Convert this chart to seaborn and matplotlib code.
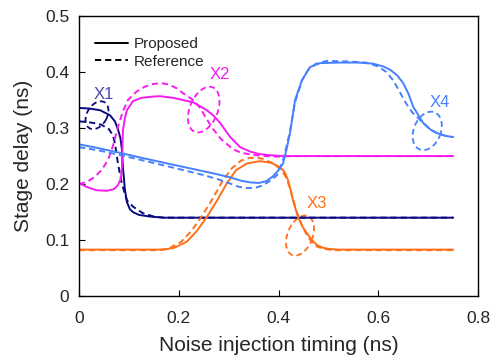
import numpy as np
import pandas as pd
import matplotlib
matplotlib.use('Agg')
import matplotlib.pyplot as plt
from matplotlib.patches import Ellipse
from matplotlib.transforms import ScaledTranslation
from matplotlib.lines import Line2D
import seaborn as sns

sns.set_style('ticks')
plt.rcParams['font.family'] = ['Liberation Sans', 'DejaVu Sans']

# ---- data (ns) ----
x1_prop_t = [0, 0.02, 0.042, 0.062, 0.072, 0.078, 0.083, 0.086, 0.088, 0.092, 0.096, 0.102, 0.108, 0.12, 0.142, 0.17, 0.75]
x1_prop_d = [0.336, 0.335, 0.332, 0.323, 0.312, 0.298, 0.282, 0.262, 0.23, 0.19, 0.168, 0.155, 0.15, 0.145, 0.142, 0.14, 0.14]
x1_ref_t = [0, 0.015, 0.03, 0.045, 0.06, 0.068, 0.072, 0.078, 0.086, 0.096, 0.108, 0.116, 0.128, 0.15, 0.17, 0.75]
x1_ref_d = [0.312, 0.311, 0.309, 0.306, 0.298, 0.287, 0.273, 0.237, 0.2, 0.171, 0.16, 0.155, 0.148, 0.142, 0.14, 0.14]

x2_prop_t = [0, 0.015, 0.035, 0.056, 0.07, 0.078, 0.084, 0.086, 0.087, 0.088, 0.092, 0.096, 0.108, 0.125, 0.145, 0.162, 0.189, 0.209, 0.229, 0.256, 0.27, 0.283, 0.303, 0.323, 0.343, 0.36, 0.377, 0.409, 0.43, 0.75]
x2_prop_d = [0.202, 0.195, 0.189, 0.188, 0.191, 0.198, 0.21, 0.23, 0.26, 0.296, 0.318, 0.332, 0.348, 0.354, 0.356, 0.357, 0.354, 0.35, 0.346, 0.332, 0.322, 0.309, 0.284, 0.266, 0.258, 0.254, 0.252, 0.25, 0.25, 0.25]
x2_ref_t = [0, 0.016, 0.032, 0.046, 0.058, 0.068, 0.078, 0.088, 0.098, 0.115, 0.132, 0.15, 0.166, 0.18, 0.196, 0.209, 0.229, 0.243, 0.256, 0.269, 0.285, 0.309, 0.325, 0.349, 0.375, 0.397, 0.43, 0.75]
x2_ref_d = [0.2, 0.204, 0.213, 0.226, 0.243, 0.268, 0.302, 0.33, 0.35, 0.365, 0.374, 0.379, 0.38, 0.378, 0.371, 0.362, 0.35, 0.336, 0.316, 0.298, 0.28, 0.262, 0.256, 0.252, 0.25, 0.249, 0.25, 0.25]

x3_prop_t = [0, 0.17, 0.19, 0.216, 0.236, 0.256, 0.277, 0.296, 0.315, 0.337, 0.363, 0.385, 0.403, 0.412, 0.419, 0.424, 0.429, 0.439, 0.448, 0.457, 0.467, 0.477, 0.49, 0.503, 0.52, 0.75]
x3_prop_d = [0.083, 0.083, 0.086, 0.097, 0.116, 0.141, 0.171, 0.201, 0.225, 0.237, 0.241, 0.238, 0.23, 0.222, 0.207, 0.19, 0.171, 0.141, 0.124, 0.112, 0.1, 0.091, 0.086, 0.084, 0.083, 0.083]
x3_ref_t = [0, 0.16, 0.18, 0.205, 0.225, 0.245, 0.266, 0.286, 0.306, 0.325, 0.343, 0.365, 0.387, 0.405, 0.415, 0.422, 0.428, 0.436, 0.446, 0.456, 0.466, 0.478, 0.492, 0.51, 0.75]
x3_ref_d = [0.082, 0.082, 0.085, 0.097, 0.116, 0.141, 0.171, 0.203, 0.228, 0.242, 0.247, 0.246, 0.238, 0.226, 0.212, 0.195, 0.176, 0.152, 0.128, 0.11, 0.097, 0.088, 0.084, 0.082, 0.082]

x4_prop_t = [0, 0.04, 0.076, 0.12, 0.176, 0.223, 0.27, 0.303, 0.325, 0.343, 0.36, 0.375, 0.389, 0.399, 0.409, 0.416, 0.423, 0.433, 0.447, 0.463, 0.483, 0.52, 0.56, 0.59, 0.61, 0.624, 0.638, 0.65, 0.66, 0.67, 0.69, 0.705, 0.718, 0.735, 0.75]
x4_prop_d = [0.271, 0.264, 0.257, 0.248, 0.237, 0.228, 0.219, 0.212, 0.206, 0.203, 0.202, 0.205, 0.214, 0.224, 0.237, 0.262, 0.291, 0.35, 0.386, 0.409, 0.416, 0.417, 0.417, 0.415, 0.41, 0.404, 0.394, 0.38, 0.362, 0.338, 0.309, 0.297, 0.291, 0.286, 0.284]
x4_ref_t = [0, 0.04, 0.076, 0.12, 0.176, 0.209, 0.25, 0.277, 0.3, 0.317, 0.333, 0.343, 0.356, 0.369, 0.385, 0.397, 0.409, 0.416, 0.423, 0.433, 0.447, 0.46, 0.475, 0.497, 0.54, 0.575, 0.6, 0.616, 0.63, 0.642, 0.655, 0.668, 0.69, 0.705, 0.718, 0.735, 0.75]
x4_ref_d = [0.266, 0.26, 0.253, 0.244, 0.232, 0.225, 0.216, 0.209, 0.202, 0.196, 0.193, 0.193, 0.194, 0.198, 0.207, 0.216, 0.243, 0.268, 0.295, 0.346, 0.385, 0.405, 0.415, 0.42, 0.419, 0.417, 0.41, 0.4, 0.385, 0.366, 0.345, 0.328, 0.309, 0.297, 0.291, 0.286, 0.284]

labels = ['X1', 'X2', 'X3', 'X4']
colors = ['#0a0a80', '#f41cf0', '#ff6f1a', '#4680ff']
label_colors = ['#4848b0', '#f41cf0', '#ff6f1a', '#4680ff']
label_t = [0.05, 0.283, 0.477, 0.724]
label_d = [0.36, 0.396, 0.166, 0.346]
# highlight ellipses: centre (ns), axes in inches, tilt in degrees
ell_t = [0.036, 0.25, 0.443, 0.698]
ell_d = [0.323, 0.333, 0.108, 0.295]
ell_w = [0.30, 0.48, 0.42, 0.40]
ell_h = [0.20, 0.28, 0.25, 0.27]
ell_a = [60, 68, 68, 68]

prop = [(x1_prop_t, x1_prop_d), (x2_prop_t, x2_prop_d), (x3_prop_t, x3_prop_d), (x4_prop_t, x4_prop_d)]
ref = [(x1_ref_t, x1_ref_d), (x2_ref_t, x2_ref_d), (x3_ref_t, x3_ref_d), (x4_ref_t, x4_ref_d)]

fig = plt.figure(figsize=(4.97, 3.58), dpi=100)
ax = fig.add_axes([0.159, 0.173, 0.803, 0.782])

dash = (3.2, 2.0)
for i in range(4):
    sns.lineplot(x=ref[i][0], y=ref[i][1], color=colors[i], lw=1.4, ax=ax,
                 sort=False, estimator=None, dashes=False, linestyle=(0, dash))
    sns.lineplot(x=prop[i][0], y=prop[i][1], color=colors[i], lw=1.4, ax=ax,
                 sort=False, estimator=None)
    ax.text(label_t[i], label_d[i], labels[i], color=label_colors[i], fontsize=12,
            ha='center', va='center')
    tr = fig.dpi_scale_trans + ScaledTranslation(ell_t[i], ell_d[i], ax.transData)
    ax.add_patch(Ellipse((0, 0), ell_w[i], ell_h[i], angle=ell_a[i], transform=tr,
                         fill=False, edgecolor=colors[i], lw=1.3, linestyle=(0, dash)))

ax.set_xlim(0, 0.8)
ax.set_ylim(0, 0.5)
ax.set_xticks([0, 0.2, 0.4, 0.6, 0.8])
ax.set_xticklabels(['0', '0.2', '0.4', '0.6', '0.8'])
ax.set_yticks([0, 0.1, 0.2, 0.3, 0.4, 0.5])
ax.set_yticklabels(['0', '0.1', '0.2', '0.3', '0.4', '0.5'])
ax.tick_params(direction='in', length=4, labelsize=12.5, color='black')
ax.tick_params(axis='x', pad=11)
ax.tick_params(axis='y', pad=7)
ax.set_xlabel('Noise injection timing (ns)', fontsize=15, labelpad=7)
ax.set_ylabel('Stage delay (ns)', fontsize=15, labelpad=9)
for s in ax.spines.values():
    s.set_visible(True)
    s.set_linewidth(1.0)
    s.set_color('black')

handles = [Line2D([], [], color='black', lw=1.4),
           Line2D([], [], color='black', lw=1.4, linestyle=(0, dash))]
ax.legend(handles, ['Proposed', 'Reference'], loc='upper left', frameon=False,
          fontsize=11, handlelength=2.2, handletextpad=0.35, labelspacing=0.25,
          bbox_to_anchor=(0.005, 0.975))

fig.savefig('out.png', dpi=100)
